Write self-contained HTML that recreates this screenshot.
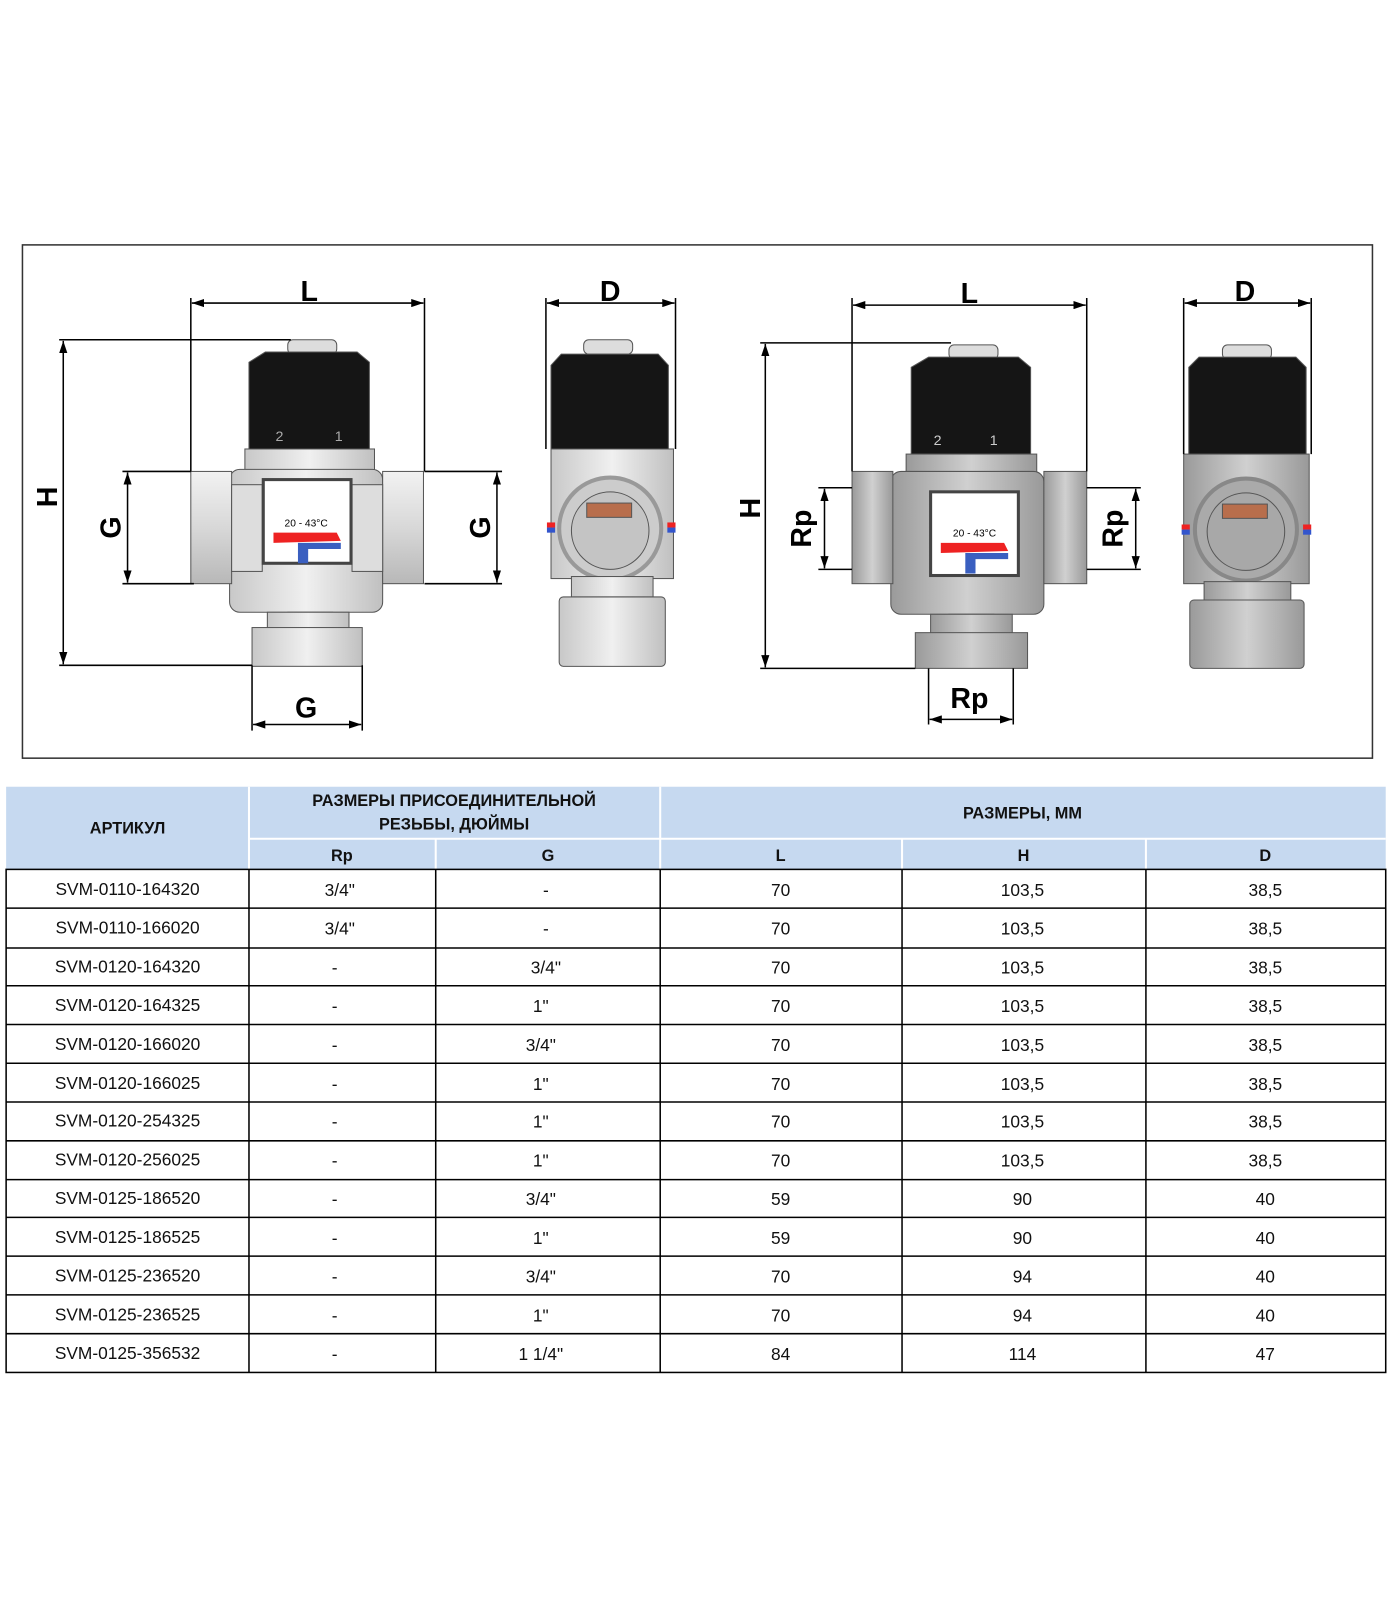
<!DOCTYPE html>
<html><head><meta charset="utf-8"><style>
html,body{margin:0;padding:0;background:#fff}
svg{display:block}
</style></head><body>
<svg width="1400" height="1600" viewBox="0 0 1372 1568" xmlns="http://www.w3.org/2000/svg" font-family="Liberation Sans, sans-serif">
<defs>
<marker id="a" viewBox="0 0 12 8" refX="12" refY="4" markerWidth="12" markerHeight="8" orient="auto-start-reverse" markerUnits="userSpaceOnUse"><path d="M0,0 L12,4 L0,8 Z" fill="#000"/></marker>
<linearGradient id="gv" x1="0" x2="0" y1="0" y2="1"><stop offset="0" stop-color="#f2f2f2"/><stop offset="0.5" stop-color="#d8d8d8"/><stop offset="1" stop-color="#b8b8b8"/></linearGradient>
<linearGradient id="gh" x1="0" x2="1" y1="0" y2="0"><stop offset="0" stop-color="#c8c8c8"/><stop offset="0.5" stop-color="#f0f0f0"/><stop offset="1" stop-color="#c0c0c0"/></linearGradient>
<linearGradient id="gd" x1="0" x2="1" y1="0" y2="0"><stop offset="0" stop-color="#9a9a9a"/><stop offset="0.5" stop-color="#d0d0d0"/><stop offset="1" stop-color="#999"/></linearGradient>
</defs>
<rect x="22" y="240" width="1323" height="503" fill="none" stroke="#333" stroke-width="1.5"/>

<!-- Valve 1 front -->
<g stroke="#555" stroke-width="1">
<rect x="282" y="333" width="48" height="14" rx="5" fill="#ddd"/>
<path d="M260,345 L350,345 L362,355 L362,440 L244,440 L244,355 Z" fill="#151515"/>
<rect x="240" y="440" width="127" height="24" fill="url(#gh)"/>
<rect x="225" y="460" width="150" height="140" rx="10" fill="url(#gh)"/>
<rect x="187" y="462" width="40" height="110" fill="url(#gv)"/>
<rect x="375" y="462" width="40" height="110" fill="url(#gv)"/>
<rect x="227" y="475" width="30" height="85" fill="#ddd"/>
<rect x="345" y="475" width="30" height="85" fill="#ddd"/>
<rect x="258" y="470" width="86" height="82" fill="#fff" stroke="#444" stroke-width="3"/>
<rect x="282" y="600" width="44" height="28" fill="#ccc"/>
<rect x="262" y="600" width="80" height="20" fill="url(#gh)"/>
<rect x="247" y="615" width="108" height="38" fill="url(#gh)"/>
</g>
<text x="300" y="516" font-size="10" text-anchor="middle">20 - 43°C</text>
<path d="M268,522 L330,522 L334,530 L268,532 Z" fill="#e22"/>
<path d="M292,532 L334,532 L334,538 L302,538 L302,552 L292,552 Z" fill="#3a5fc0"/>
<text x="270" y="432" font-size="14" fill="#aaa">2</text><text x="328" y="432" font-size="14" fill="#aaa">1</text>

<!-- Valve 2 side -->
<g stroke="#555" stroke-width="1">
<rect x="572" y="333" width="48" height="14" rx="5" fill="#ddd"/>
<path d="M550,347 L645,347 L655,358 L655,440 L540,440 L540,358 Z" fill="#151515"/>
<rect x="540" y="440" width="120" height="127" fill="url(#gh)"/>
<circle cx="598" cy="518" r="50" fill="#ccc" stroke="#999" stroke-width="4"/>
<circle cx="598" cy="520" r="38" fill="#c4c4c4"/>
<rect x="575" y="493" width="44" height="14" fill="#b86e4c"/>
<rect x="560" y="565" width="80" height="20" fill="url(#gh)"/>
<rect x="548" y="585" width="104" height="68" rx="4" fill="url(#gh)"/>
</g>
<rect x="536" y="512" width="8" height="5" fill="#e22"/><rect x="536" y="517" width="8" height="5" fill="#35c"/>
<rect x="654" y="512" width="8" height="5" fill="#e22"/><rect x="654" y="517" width="8" height="5" fill="#35c"/>

<!-- Valve 3 front -->
<g stroke="#555" stroke-width="1">
<rect x="930" y="338" width="48" height="14" rx="5" fill="#ddd"/>
<path d="M910,350 L998,350 L1010,360 L1010,445 L893,445 L893,360 Z" fill="#151515"/>
<rect x="888" y="445" width="128" height="22" fill="url(#gd)"/>
<rect x="873" y="462" width="150" height="140" rx="10" fill="url(#gd)"/>
<rect x="835" y="462" width="40" height="110" fill="url(#gd)"/>
<rect x="1023" y="462" width="42" height="110" fill="url(#gd)"/>
<rect x="912" y="482" width="86" height="82" fill="#fff" stroke="#444" stroke-width="3"/>
<rect x="930" y="602" width="44" height="28" fill="#aaa"/>
<rect x="912" y="602" width="80" height="22" fill="url(#gd)"/>
<rect x="897" y="620" width="110" height="35" fill="url(#gd)"/>
</g>
<text x="955" y="526" font-size="10" text-anchor="middle">20 - 43°C</text>
<path d="M922,532 L984,532 L988,540 L922,542 Z" fill="#e22"/>
<path d="M946,542 L988,542 L988,548 L956,548 L956,562 L946,562 Z" fill="#3a5fc0"/>
<text x="915" y="436" font-size="14" fill="#ccc">2</text><text x="970" y="436" font-size="14" fill="#ccc">1</text>

<!-- Valve 4 side -->
<g stroke="#555" stroke-width="1">
<rect x="1198" y="338" width="48" height="14" rx="5" fill="#ddd"/>
<path d="M1175,350 L1270,350 L1280,360 L1280,445 L1165,445 L1165,360 Z" fill="#151515"/>
<rect x="1160" y="445" width="123" height="127" fill="url(#gd)"/>
<circle cx="1221" cy="519" r="50" fill="#aaa" stroke="#888" stroke-width="4"/>
<circle cx="1221" cy="521" r="38" fill="#a8a8a8"/>
<rect x="1198" y="494" width="44" height="14" fill="#b86e4c"/>
<rect x="1180" y="570" width="85" height="20" fill="url(#gd)"/>
<rect x="1166" y="588" width="112" height="67" rx="4" fill="url(#gd)"/>
</g>
<rect x="1158" y="514" width="8" height="5" fill="#e22"/><rect x="1158" y="519" width="8" height="5" fill="#35c"/>
<rect x="1277" y="514" width="8" height="5" fill="#e22"/><rect x="1277" y="519" width="8" height="5" fill="#35c"/>

<!-- dimension lines -->
<g stroke="#000" stroke-width="1.5" fill="none">
<line x1="187" y1="292" x2="187" y2="462"/><line x1="416" y1="292" x2="416" y2="462"/>
<line x1="188" y1="297" x2="415" y2="297" marker-start="url(#a)" marker-end="url(#a)"/>
<line x1="58" y1="333" x2="285" y2="333"/><line x1="58" y1="652" x2="247" y2="652"/>
<line x1="62" y1="334" x2="62" y2="651" marker-start="url(#a)" marker-end="url(#a)"/>
<line x1="120" y1="462" x2="187" y2="462"/><line x1="120" y1="572" x2="190" y2="572"/>
<line x1="125" y1="463" x2="125" y2="571" marker-start="url(#a)" marker-end="url(#a)"/>
<line x1="416" y1="462" x2="492" y2="462"/><line x1="416" y1="572" x2="492" y2="572"/>
<line x1="487" y1="463" x2="487" y2="571" marker-start="url(#a)" marker-end="url(#a)"/>
<line x1="247" y1="652" x2="247" y2="716"/><line x1="355" y1="652" x2="355" y2="716"/>
<line x1="248" y1="710" x2="354" y2="710" marker-start="url(#a)" marker-end="url(#a)"/>

<line x1="535" y1="292" x2="535" y2="440"/><line x1="662" y1="292" x2="662" y2="440"/>
<line x1="536" y1="297" x2="661" y2="297" marker-start="url(#a)" marker-end="url(#a)"/>

<line x1="835" y1="292" x2="835" y2="462"/><line x1="1065" y1="292" x2="1065" y2="462"/>
<line x1="836" y1="299" x2="1064" y2="299" marker-start="url(#a)" marker-end="url(#a)"/>
<line x1="745" y1="336" x2="932" y2="336"/><line x1="745" y1="655" x2="897" y2="655"/>
<line x1="750" y1="337" x2="750" y2="654" marker-start="url(#a)" marker-end="url(#a)"/>
<line x1="802" y1="478" x2="835" y2="478"/><line x1="802" y1="558" x2="835" y2="558"/>
<line x1="808" y1="479" x2="808" y2="557" marker-start="url(#a)" marker-end="url(#a)"/>
<line x1="1065" y1="478" x2="1118" y2="478"/><line x1="1065" y1="558" x2="1118" y2="558"/>
<line x1="1113" y1="479" x2="1113" y2="557" marker-start="url(#a)" marker-end="url(#a)"/>
<line x1="910" y1="655" x2="910" y2="710"/><line x1="993" y1="655" x2="993" y2="710"/>
<line x1="911" y1="705" x2="992" y2="705" marker-start="url(#a)" marker-end="url(#a)"/>

<line x1="1160" y1="292" x2="1160" y2="445"/><line x1="1285" y1="292" x2="1285" y2="445"/>
<line x1="1161" y1="297" x2="1284" y2="297" marker-start="url(#a)" marker-end="url(#a)"/>
</g>
<g font-weight="bold" font-size="28" text-anchor="middle" fill="#000">
<text x="303" y="295">L</text>
<text x="598" y="295">D</text>
<text x="950" y="297">L</text>
<text x="1220" y="295">D</text>
<text x="300" y="703">G</text>
<text x="950" y="694">Rp</text>
<text transform="translate(56,487) rotate(-90)">H</text>
<text transform="translate(118,517) rotate(-90)">G</text>
<text transform="translate(480,517) rotate(-90)">G</text>
<text transform="translate(745,498) rotate(-90)">H</text>
<text transform="translate(795,518) rotate(-90)">Rp</text>
<text transform="translate(1100,518) rotate(-90)">Rp</text>
</g>

<!-- table -->
<rect x="6" y="771" width="1352" height="81" fill="#c6d9f0"/>
<g stroke="#fff" stroke-width="2">
<line x1="244" y1="771" x2="244" y2="852"/><line x1="647" y1="771" x2="647" y2="852"/>
<line x1="244" y1="822" x2="1358" y2="822"/>
<line x1="427" y1="822" x2="427" y2="852"/><line x1="884" y1="822" x2="884" y2="852"/><line x1="1123" y1="822" x2="1123" y2="852"/>
</g>
<g font-weight="bold" font-size="16" text-anchor="middle" fill="#111">
<text x="125" y="817">АРТИКУЛ</text>
<text x="445" y="790">РАЗМЕРЫ ПРИСОЕДИНИТЕЛЬНОЙ</text>
<text x="445" y="813">РЕЗЬБЫ, ДЮЙМЫ</text>
<text x="1002" y="802">РАЗМЕРЫ, ММ</text>
<text x="335" y="844">Rp</text><text x="537" y="844">G</text>
<text x="765" y="844">L</text><text x="1003" y="844">H</text><text x="1240" y="844">D</text>
</g>
<g stroke="#000" stroke-width="1.5">
<rect x="6" y="852" width="1352" height="493" fill="none"/>
<line x1="244" y1="852" x2="244" y2="1345"/><line x1="427" y1="852" x2="427" y2="1345"/>
<line x1="647" y1="852" x2="647" y2="1345"/><line x1="884" y1="852" x2="884" y2="1345"/>
<line x1="1123" y1="852" x2="1123" y2="1345"/>
<line x1="6" y1="890" x2="1358" y2="890"/><line x1="6" y1="929" x2="1358" y2="929"/>
<line x1="6" y1="966" x2="1358" y2="966"/><line x1="6" y1="1004" x2="1358" y2="1004"/>
<line x1="6" y1="1042" x2="1358" y2="1042"/><line x1="6" y1="1080" x2="1358" y2="1080"/>
<line x1="6" y1="1118" x2="1358" y2="1118"/><line x1="6" y1="1156" x2="1358" y2="1156"/>
<line x1="6" y1="1193" x2="1358" y2="1193"/><line x1="6" y1="1231" x2="1358" y2="1231"/>
<line x1="6" y1="1269" x2="1358" y2="1269"/><line x1="6" y1="1307" x2="1358" y2="1307"/>
</g>
<g font-size="17" text-anchor="middle" fill="#111">
<text x="125" y="877">SVM-0110-164320</text><text x="333" y="878">3/4"</text><text x="535" y="878">-</text><text x="765" y="878">70</text><text x="1002" y="878">103,5</text><text x="1240" y="878">38,5</text>
<text x="125" y="915">SVM-0110-166020</text><text x="333" y="916">3/4"</text><text x="535" y="916">-</text><text x="765" y="916">70</text><text x="1002" y="916">103,5</text><text x="1240" y="916">38,5</text>
<text x="125" y="953">SVM-0120-164320</text><text x="328" y="954">-</text><text x="535" y="954">3/4"</text><text x="765" y="954">70</text><text x="1002" y="954">103,5</text><text x="1240" y="954">38,5</text>
<text x="125" y="991">SVM-0120-164325</text><text x="328" y="992">-</text><text x="530" y="992">1"</text><text x="765" y="992">70</text><text x="1002" y="992">103,5</text><text x="1240" y="992">38,5</text>
<text x="125" y="1029">SVM-0120-166020</text><text x="328" y="1030">-</text><text x="530" y="1030">3/4"</text><text x="765" y="1030">70</text><text x="1002" y="1030">103,5</text><text x="1240" y="1030">38,5</text>
<text x="125" y="1067">SVM-0120-166025</text><text x="328" y="1068">-</text><text x="530" y="1068">1"</text><text x="765" y="1068">70</text><text x="1002" y="1068">103,5</text><text x="1240" y="1068">38,5</text>
<text x="125" y="1104">SVM-0120-254325</text><text x="328" y="1105">-</text><text x="530" y="1105">1"</text><text x="765" y="1105">70</text><text x="1002" y="1105">103,5</text><text x="1240" y="1105">38,5</text>
<text x="125" y="1142">SVM-0120-256025</text><text x="328" y="1143">-</text><text x="530" y="1143">1"</text><text x="765" y="1143">70</text><text x="1002" y="1143">103,5</text><text x="1240" y="1143">38,5</text>
<text x="125" y="1180">SVM-0125-186520</text><text x="328" y="1181">-</text><text x="530" y="1181">3/4"</text><text x="765" y="1181">59</text><text x="1002" y="1181">90</text><text x="1240" y="1181">40</text>
<text x="125" y="1218">SVM-0125-186525</text><text x="328" y="1219">-</text><text x="530" y="1219">1"</text><text x="765" y="1219">59</text><text x="1002" y="1219">90</text><text x="1240" y="1219">40</text>
<text x="125" y="1256">SVM-0125-236520</text><text x="328" y="1257">-</text><text x="530" y="1257">3/4"</text><text x="765" y="1257">70</text><text x="1002" y="1257">94</text><text x="1240" y="1257">40</text>
<text x="125" y="1294">SVM-0125-236525</text><text x="328" y="1295">-</text><text x="530" y="1295">1"</text><text x="765" y="1295">70</text><text x="1002" y="1295">94</text><text x="1240" y="1295">40</text>
<text x="125" y="1332">SVM-0125-356532</text><text x="328" y="1333">-</text><text x="530" y="1333">1 1/4"</text><text x="765" y="1333">84</text><text x="1002" y="1333">114</text><text x="1240" y="1333">47</text>
</g>
</svg>
</body></html>
